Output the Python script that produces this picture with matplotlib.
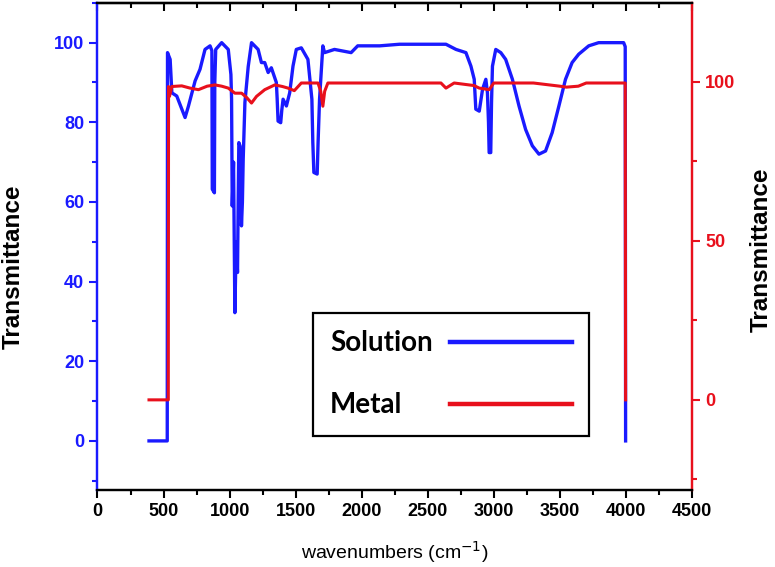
import matplotlib
matplotlib.use("Agg")
import matplotlib.pyplot as plt
from matplotlib.ticker import MultipleLocator

# Solution spectrum (left axis)
sol_x = [390, 528, 530, 550, 563, 600, 663, 688, 739, 776, 814, 852, 866, 869, 885, 888,
         895, 940, 990, 1010, 1015, 1020, 1030, 1040, 1050, 1060, 1065, 1070, 1080, 1090,
         1097, 1103, 1116, 1141, 1166, 1216, 1241, 1266, 1292, 1316, 1354, 1360, 1367,
         1387, 1395, 1405, 1430, 1455, 1480, 1505, 1543, 1593, 1623, 1630, 1638, 1663,
         1670, 1681, 1706, 1719, 1794, 1920, 1970, 2136, 2286, 2638, 2714, 2789, 2827,
         2852, 2864, 2890, 2915, 2940, 2952, 2960, 2965, 2977, 2983, 2990, 3015, 3053,
         3090, 3141, 3191, 3241, 3292, 3342, 3392, 3442, 3493, 3543, 3593, 3643, 3719,
         3794, 3895, 3983, 3995, 3998]
sol_y = [0, 0, 97.5, 95.8, 87.4, 86.6, 81.2, 84.0, 90.4, 93.3, 98.3, 99.2, 98.0, 63.2, 62.3, 90.0,
         98.3, 100, 98.3, 92.0, 85.8, 59.0, 70.0, 32.2, 50.0, 42.3, 60.0, 74.9, 74.0, 54.0,
         60.0, 70.7, 85.0, 94.0, 100, 98.3, 95.0, 95.0, 92.5, 93.7, 90.0, 86.0, 80.3,
         79.9, 83.0, 85.8, 84.1, 87.4, 94.1, 98.3, 98.7, 95.8, 85.8, 75.0, 67.4, 67.0,
         75.0, 85.8, 99.2, 97.5, 98.3, 97.5, 99.2, 99.2, 99.6, 99.6, 98.3, 97.5, 94.1,
         90.8, 83.3, 82.8, 88.3, 90.8, 87.4, 80.0, 72.4, 72.4, 85.0, 94.1, 98.3, 97.5,
         95.8, 90.8, 84.1, 78.2, 74.1, 72.0, 72.8, 77.4, 84.1, 90.8, 95.0, 97.1, 99.2,
         100, 100, 100, 99.0, 0]

# Metal spectrum (right axis)
met_x = [390, 536, 538, 545, 563, 638, 700, 764, 830, 889, 940, 990, 1040, 1091, 1130,
         1166, 1204, 1266, 1342, 1400, 1442, 1490, 1543, 1669, 1690, 1706, 1720, 1744,
         2200, 2600, 2638, 2700, 2850, 2890, 2965, 3000, 3300, 3500, 3550, 3640, 3700,
         3995, 3998]
met_y = [0, 0, 98.5, 95.4, 98.5, 98.7, 98.0, 97.5, 98.6, 99.0, 98.6, 98.0, 96.4, 96.4, 95.0,
         93.3, 95.4, 97.5, 99.0, 98.5, 98.0, 97.2, 99.6, 99.6, 97.0, 92.3, 97.0, 99.6,
         99.6, 99.6, 98.0, 99.6, 98.8, 98.0, 97.5, 99.6, 99.6, 98.6, 98.3, 98.6, 99.6,
         99.6, 0]

BLUE = "#1a1aff"
RED = "#e8101c"

fig = plt.figure(figsize=(7.75, 5.67), dpi=100)
ax = fig.add_axes([0.1258, 0.136, 0.767, 0.859])
ax2 = ax.twinx()

l1, = ax.plot(sol_x, sol_y, color=BLUE, lw=2.4, label="Solution")
l2, = ax2.plot(met_x, met_y, color=RED, lw=2.2, label="Metal")

ax.set_xlim(0, 4500)
ax.set_ylim(-12.3, 110)
ax2.set_ylim(-28.3, 124.8)

ax.xaxis.set_major_locator(MultipleLocator(500))
ax.xaxis.set_minor_locator(MultipleLocator(250))
ax.yaxis.set_major_locator(MultipleLocator(20))
ax.yaxis.set_minor_locator(MultipleLocator(10))
ax2.yaxis.set_major_locator(MultipleLocator(50))
ax2.yaxis.set_minor_locator(MultipleLocator(25))

for sp in ax.spines.values():
    sp.set_linewidth(1.6)
for sp in ax2.spines.values():
    sp.set_linewidth(1.6)
ax.spines["left"].set_color(BLUE)
ax2.spines["left"].set_color(BLUE)
ax2.spines["right"].set_color(RED)
ax.spines["right"].set_color(RED)

tick_font = dict(family=["Liberation Sans", "DejaVu Sans"], weight="bold", size=13)

ax.tick_params(axis="x", which="both", direction="out", top=False, width=1.5)
ax.tick_params(axis="x", which="major", length=6)
ax.tick_params(axis="x", which="minor", length=3.5)
ax.tick_params(axis="y", which="both", colors=BLUE, width=1.5)
ax.tick_params(axis="y", which="major", length=6)
ax.tick_params(axis="y", which="minor", length=3.5)
ax2.tick_params(axis="y", which="both", colors=RED, width=1.5)
ax2.tick_params(axis="y", which="major", length=6)
ax2.tick_params(axis="y", which="minor", length=3.5)

# inward ticks on the top spine, no labels
sec = ax.secondary_xaxis("top")
sec.xaxis.set_major_locator(MultipleLocator(500))
sec.xaxis.set_minor_locator(MultipleLocator(250))
sec.tick_params(which="both", direction="in", labeltop=False, width=1.5)
sec.tick_params(which="major", length=6)
sec.tick_params(which="minor", length=3.5)
sec.spines["top"].set_linewidth(1.6)

for lab in ax.get_xticklabels():
    lab.set(**tick_font)
for lab in ax.get_yticklabels():
    lab.set(**tick_font)
    lab.set_color(BLUE)
for lab in ax2.get_yticklabels():
    lab.set(**tick_font)
    lab.set_color(RED)

ax.set_xlabel("wavenumbers (cm$^{-1}$)", labelpad=14,
              family=["Liberation Sans", "DejaVu Sans"], size=14)
ylab_font = dict(family=["Liberation Sans", "DejaVu Sans"], size=17.5, weight="bold")
ax.set_ylabel("Transmittance", **ylab_font)
ax2.set_ylabel("Transmittance", **ylab_font)
ax.yaxis.set_label_coords(-0.122, 0.458)
ax2.yaxis.set_label_coords(1.0977, 0.493)

leg = ax2.legend(handles=[l1, l2], loc="upper left",
                 bbox_to_anchor=(313 / 775, 1 - 313 / 567), bbox_transform=fig.transFigure,
                 borderaxespad=0, markerfirst=False, handlelength=4.4, handletextpad=0.6,
                 labelspacing=1.3, borderpad=0.62, fancybox=False, framealpha=1,
                 edgecolor="black", prop=dict(family=["Lato", "DejaVu Sans"], weight="bold", size=20))
leg.get_frame().set_linewidth(1.6)
for h in leg.get_lines():
    h.set_linewidth(3.2)

# labels left, lines pushed to the right edge of each row
fig.canvas.draw()
rend = fig.canvas.get_renderer()
for col in leg._legend_handle_box.get_children():
    col.align = "left"
    rows = col.get_children()
    w = max(r.get_bbox(rend).width for r in rows)
    for r in rows:
        r.mode = "expand"
        r.width = w

fig.savefig("out.png", dpi=100)
